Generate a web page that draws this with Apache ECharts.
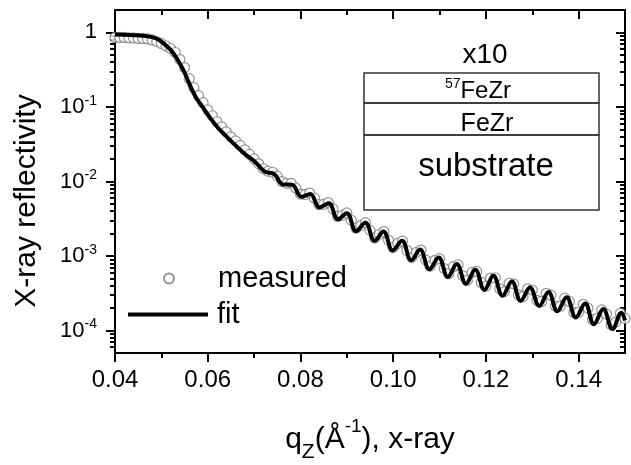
<!DOCTYPE html>
<html>
<head>
<meta charset="utf-8">
<script src="https://cdn.jsdelivr.net/npm/echarts@6/dist/echarts.min.js"></script>
<style>
html, body { margin: 0; padding: 0; background: #fff; }
#chart { width: 631px; height: 465px; }
</style>
</head>
<body>
<div id="chart"></div>
<script>
// fit curve (q in 1/A, reflectivity)
var fitQ = [0.0400, 0.0432, 0.0465, 0.0482, 0.0497, 0.0510, 0.0523, 0.0536, 0.0549, 0.0562, 0.0575, 0.0590, 0.0605, 0.0622, 0.0639, 0.0659, 0.0680,
  0.0703, 0.0723, 0.0743, 0.0762, 0.0782, 0.0802, 0.0821, 0.0841, 0.0861, 0.0881, 0.0900, 0.0920, 0.0940, 0.0960, 0.0979, 0.0999,
  0.1019, 0.1039, 0.1058, 0.1078, 0.1098, 0.1118, 0.1137, 0.1157, 0.1177, 0.1197, 0.1216, 0.1236, 0.1256, 0.1275, 0.1295, 0.1315,
  0.1335, 0.1354, 0.1374, 0.1394, 0.1414, 0.1433, 0.1453, 0.1473, 0.1492, 0.1500];
var fitR = [0.94, 0.925, 0.898, 0.857, 0.78, 0.668, 0.555, 0.42, 0.299, 0.193, 0.133, 0.0977, 0.0716, 0.0526, 0.0410, 0.0310, 0.0234,
  0.01815, 0.01359, 0.01262, 0.00914, 0.00903, 0.00624, 0.00679, 0.00449, 0.00510, 0.00311, 0.00374, 0.00216, 0.00279, 0.001604, 0.002134, 0.001192,
  0.0016, 0.000877, 0.001221, 0.000665, 0.000953, 0.000524, 0.000784, 0.000424, 0.000653, 0.000351, 0.000544, 0.000293, 0.000457, 0.000250, 0.000379, 0.000214,
  0.000328, 0.0001814, 0.00028, 0.0001496, 0.000231, 0.0001216, 0.000194, 0.0001047, 0.000173, 0.0001364];

// measured points
var measQ = [0.040, 0.041, 0.042, 0.043, 0.044, 0.045, 0.046, 0.047, 0.048, 0.049,
  0.050, 0.051, 0.052, 0.053, 0.054, 0.055, 0.056, 0.057, 0.058, 0.059,
  0.060, 0.061, 0.062, 0.063, 0.064, 0.065, 0.066, 0.067, 0.068, 0.069,
  0.070, 0.071, 0.072, 0.073, 0.074, 0.075, 0.076, 0.077, 0.078, 0.079,
  0.080, 0.081, 0.082, 0.083, 0.084, 0.085, 0.086, 0.087, 0.088, 0.089,
  0.090, 0.091, 0.092, 0.093, 0.094, 0.095, 0.096, 0.097, 0.098, 0.099,
  0.100, 0.101, 0.102, 0.103, 0.104, 0.105, 0.106, 0.107, 0.108, 0.109,
  0.110, 0.111, 0.112, 0.113, 0.114, 0.115, 0.116, 0.117, 0.118, 0.119,
  0.120, 0.121, 0.122, 0.123, 0.124, 0.125, 0.126, 0.127, 0.128, 0.129,
  0.130, 0.131, 0.132, 0.133, 0.134, 0.135, 0.136, 0.137, 0.138, 0.139,
  0.140, 0.141, 0.142, 0.143, 0.144, 0.145, 0.146, 0.147, 0.148, 0.149, 0.150];
var measR = [0.856, 0.856, 0.856, 0.843, 0.843, 0.830, 0.830, 0.818, 0.793, 0.756,
  0.711, 0.658, 0.609, 0.538, 0.433, 0.338, 0.240, 0.1816, 0.1417, 0.1141,
  0.0918, 0.0762, 0.0633, 0.0542, 0.0464, 0.0397, 0.0351, 0.0305, 0.0266, 0.0231,
  0.0201, 0.01726, 0.01483, 0.01372, 0.01330, 0.01182, 0.00997, 0.00943, 0.00945, 0.00818,
  0.00679, 0.00668, 0.00700, 0.00601, 0.00490, 0.00493, 0.00522, 0.00429, 0.00339, 0.00352,
  0.00379, 0.00301, 0.00236, 0.00256, 0.00280, 0.00221, 0.00175, 0.00196, 0.00213, 0.001625,
  0.00130, 0.001476, 0.001585, 0.001184, 0.000959, 0.001123, 0.001202, 0.000887, 0.000732, 0.000877,
  0.000924, 0.000678, 0.000579, 0.000719, 0.000760, 0.000547, 0.000474, 0.000602, 0.000621, 0.000442,
  0.000395, 0.000506, 0.000511, 0.000363, 0.000333, 0.000431, 0.000423, 0.000302, 0.000285, 0.000363,
  0.000350, 0.000254, 0.000246, 0.000316, 0.000298, 0.000213, 0.000212, 0.000272, 0.000246, 0.000175,
  0.000176, 0.000225, 0.000200, 0.0001406, 0.0001456, 0.000189, 0.0001658, 0.0001197, 0.0001297, 0.000170, 0.0001456];

// ticks
var xMajor = [0.04, 0.06, 0.08, 0.10, 0.12, 0.14];
var xMinor = [0.05, 0.07, 0.09, 0.11, 0.13];
var yMajor = [1e-4, 1e-3, 1e-2, 1e-1, 1];
var yMinor = [6e-5, 7e-5, 8e-5, 9e-5,
  2e-4, 3e-4, 4e-4, 5e-4, 6e-4, 7e-4, 8e-4, 9e-4,
  2e-3, 3e-3, 4e-3, 5e-3, 6e-3, 7e-3, 8e-3, 9e-3,
  0.02, 0.03, 0.04, 0.05, 0.06, 0.07, 0.08, 0.09,
  0.2, 0.3, 0.4, 0.5, 0.6, 0.7, 0.8, 0.9];

var FONT = 'Liberation Sans';
var chart = echarts.init(document.getElementById('chart'));

function makeGrid() {
  return { left: 115, right: 6, top: 10, bottom: 112, outerBoundsMode: 'none' };
}

function xAx(grid, pos, ticks, len, inside, showLine, labels) {
  return {
    gridIndex: grid, type: 'value', position: pos, min: 0.04, max: 0.15,
    axisLine: { show: showLine, onZero: false, lineStyle: { color: '#000', width: 2 } },
    axisTick: { show: true, customValues: ticks, length: len, inside: inside, lineStyle: { color: '#000', width: 2 } },
    axisLabel: labels ? {
      customValues: xMajor, margin: 15, fontSize: 24, color: '#000', fontFamily: FONT,
      formatter: function (v) { return v.toFixed(2); }
    } : { show: false },
    splitLine: { show: false }
  };
}

function yAx(grid, pos, ticks, len, inside, showLine, labels) {
  return {
    gridIndex: grid, type: 'log', logBase: 10, position: pos, min: 5e-5, max: 2,
    axisLine: { show: showLine, onZero: false, lineStyle: { color: '#000', width: 2 } },
    axisTick: { show: true, customValues: ticks, length: len, inside: inside, lineStyle: { color: '#000', width: 2 } },
    axisLabel: labels ? {
      customValues: yMajor, margin: 18, color: '#000', fontFamily: FONT,
      formatter: function (v) {
        var e = Math.round(Math.log10(v));
        return e === 0 ? '{b|1}' : '{b|10}{s|' + e + '}';
      },
      rich: {
        b: { fontSize: 22, lineHeight: 26, fontFamily: FONT, color: '#000' },
        s: { fontSize: 14, lineHeight: 16, verticalAlign: 'top', fontFamily: FONT, color: '#000' }
      }
    } : { show: false },
    splitLine: { show: false }
  };
}

var xMain = xAx(0, 'bottom', xMajor, 9, false, true, true);
xMain.name = '{q|q}{sub|Z}{b|(Å}{sup|-1}{b|), x-ray}';
xMain.nameLocation = 'middle';
xMain.nameGap = 64;
xMain.nameTextStyle = {
  rich: {
    q: { fontSize: 30, lineHeight: 46, fontFamily: FONT, color: '#000' },
    b: { fontSize: 30, lineHeight: 46, fontFamily: FONT, color: '#000' },
    sub: { fontSize: 21, lineHeight: 16, verticalAlign: 'bottom', fontFamily: FONT, color: '#000' },
    sup: { fontSize: 19, lineHeight: 32, verticalAlign: 'top', fontFamily: FONT, color: '#000' }
  }
};

var yMain = yAx(0, 'left', yMajor, 9, false, true, true);
yMain.name = 'X-ray reflectivity';
yMain.nameLocation = 'middle';
yMain.nameGap = 73;
yMain.nameTextStyle = { fontSize: 30, color: '#000', fontFamily: FONT, padding: [0, 39, 0, 0] };

var option = {
  animation: false,
  backgroundColor: '#fff',
  textStyle: { fontFamily: FONT },
  grid: [makeGrid(), makeGrid(), makeGrid(), makeGrid()],
  xAxis: [
    xMain,
    xAx(1, 'bottom', xMinor, 5, false, false, false),
    xAx(2, 'top', xMajor, 9, true, true, false),
    xAx(3, 'top', xMinor, 5, true, false, false)
  ],
  yAxis: [
    yMain,
    yAx(1, 'left', yMinor, 5, false, false, false),
    yAx(2, 'right', yMajor, 9, true, true, false),
    yAx(3, 'right', yMinor, 5, true, false, false)
  ],
  legend: [
    {
      data: [{ name: 'measured', icon: 'circle', itemStyle: { color: '#fff', borderColor: '#777', borderWidth: 2 } }],
      left: 163, top: 264, padding: 0, itemWidth: 10, itemHeight: 10, selectedMode: false,
      textStyle: { fontSize: 29, color: '#000', fontFamily: FONT, padding: [0, 0, 0, 39] }
    },
    {
      data: [{ name: 'fit', icon: 'rect', itemStyle: { color: '#000' } }],
      left: 128, top: 300, padding: 0, itemWidth: 80, itemHeight: 4, selectedMode: false,
      textStyle: { fontSize: 29, color: '#000', fontFamily: FONT, padding: [0, 0, 0, 4] }
    }
  ],
  graphic: [
    { type: 'rect', shape: { x: 364, y: 73, width: 235, height: 30 }, style: { fill: 'none', stroke: '#333', lineWidth: 1.5 } },
    { type: 'rect', shape: { x: 364, y: 103, width: 235, height: 32 }, style: { fill: 'none', stroke: '#333', lineWidth: 1.5 } },
    { type: 'rect', shape: { x: 364, y: 135, width: 235, height: 75 }, style: { fill: 'none', stroke: '#333', lineWidth: 1.5 } },
    { type: 'text', x: 485, y: 55, style: { text: 'x10', fontSize: 28, fontFamily: FONT, fill: '#000', align: 'center', verticalAlign: 'middle' } },
    { type: 'text', x: 478, y: 91, style: {
        text: '{s|57}{b|FeZr}', align: 'center', verticalAlign: 'middle',
        rich: {
          s: { fontSize: 14, lineHeight: 14, verticalAlign: 'top', fontFamily: FONT, fill: '#000' },
          b: { fontSize: 24, lineHeight: 28, fontFamily: FONT, fill: '#000' }
        } } },
    { type: 'text', x: 487, y: 124, style: { text: 'FeZr', fontSize: 25, fontFamily: FONT, fill: '#000', align: 'center', verticalAlign: 'middle' } },
    { type: 'text', x: 486, y: 167, style: { text: 'substrate', fontSize: 33, fontFamily: FONT, fill: '#000', align: 'center', verticalAlign: 'middle' } }
  ],
  series: [
    {
      name: 'measured', type: 'scatter', xAxisIndex: 0, yAxisIndex: 0,
      data: measQ.map(function (q, i) { return [q, measR[i]]; }),
      symbol: 'circle', symbolSize: 10,
      itemStyle: { color: '#fff', borderColor: '#7a7a7a', borderWidth: 1.2 },
      z: 2
    },
    {
      name: 'fit', type: 'line', xAxisIndex: 0, yAxisIndex: 0,
      data: fitQ.map(function (q, i) { return [q, fitR[i]]; }),
      showSymbol: false, smooth: 0.4,
      lineStyle: { color: '#000', width: 4 },
      itemStyle: { color: '#000' },
      z: 3
    }
  ]
};

chart.setOption(option);
</script>
</body>
</html>
